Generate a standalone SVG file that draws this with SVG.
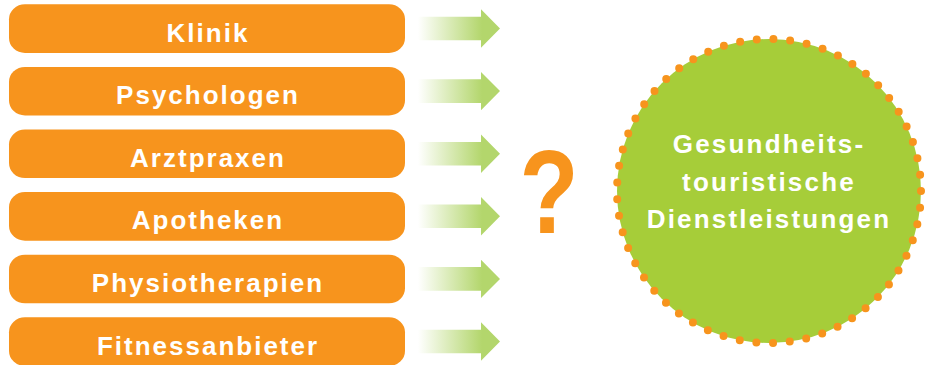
<svg xmlns="http://www.w3.org/2000/svg" width="930" height="365" viewBox="0 0 930 365">
<defs>
<linearGradient id="g" x1="418" y1="0" x2="482" y2="0" gradientUnits="userSpaceOnUse">
<stop offset="0" stop-color="#ffffff"/>
<stop offset="1" stop-color="#b3d66c"/>
</linearGradient>
<path id="arr" d="M418,-11.8 H481 V-19.2 L500,0 L481,19.2 V11.8 H418 Z"/>
</defs>
<style>
.box{fill:#f7941d}
.bt{font-family:"Liberation Sans",Arial,sans-serif;font-weight:bold;font-size:26px;fill:#ffffff;text-anchor:middle;letter-spacing:2px}
.ct{font-family:"Liberation Sans",Arial,sans-serif;font-weight:bold;font-size:26px;fill:#ffffff;text-anchor:middle;letter-spacing:2.2px}
.arrow{fill:url(#g)}
</style>
<g id="connectors">
<use href="#arr" class="arrow" y="28.5"/>
<use href="#arr" class="arrow" y="91.1"/>
<use href="#arr" class="arrow" y="153.7"/>
<use href="#arr" class="arrow" y="216.3"/>
<use href="#arr" class="arrow" y="278.9"/>
<use href="#arr" class="arrow" y="341.5"/>
</g>
<g id="n1"><rect class="box" x="9" y="4.3" width="396" height="48.6" rx="16" ry="15"/><text class="bt" x="208" y="41.5">Klinik</text></g>
<g id="n2"><rect class="box" x="9" y="66.9" width="396" height="48.6" rx="16" ry="15"/><text class="bt" x="208" y="104.1">Psychologen</text></g>
<g id="n3"><rect class="box" x="9" y="129.5" width="396" height="48.6" rx="16" ry="15"/><text class="bt" x="208" y="166.7">Arztpraxen</text></g>
<g id="n4"><rect class="box" x="9" y="192.1" width="396" height="48.6" rx="16" ry="15"/><text class="bt" x="208" y="229.3">Apotheken</text></g>
<g id="n5"><rect class="box" x="9" y="254.7" width="396" height="48.6" rx="16" ry="15"/><text class="bt" x="208" y="291.9">Physiotherapien</text></g>
<g id="n6"><rect class="box" x="9" y="317.3" width="396" height="48.6" rx="16" ry="15"/><text class="bt" x="208" y="354.5">Fitnessanbieter</text></g>
<g id="q"><text x="0" y="0" transform="translate(549,233) scale(0.82,1)" font-family="Liberation Sans,Arial,sans-serif" font-weight="bold" font-size="118" fill="#f7941d" text-anchor="middle">?</text></g>
<g id="target">
<circle cx="769" cy="191" r="152" fill="#a6cd39" stroke="#f7941d" stroke-width="8" stroke-linecap="round" stroke-dasharray="0 16.755"/>
<text class="ct" x="769" y="153">Gesundheits-</text>
<text class="ct" x="769" y="191">touristische</text>
<text class="ct" x="769" y="228">Dienstleistungen</text>
</g>
</svg>
